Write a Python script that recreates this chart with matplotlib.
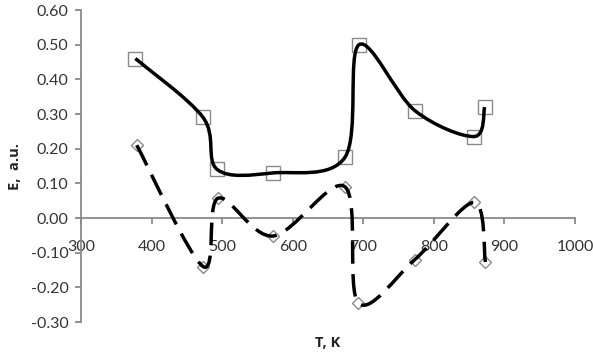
import numpy as np
import matplotlib
matplotlib.use("Agg")
import matplotlib.pyplot as plt
from matplotlib.path import Path
from matplotlib.patches import PathPatch

# Data
T_sq = [377, 473, 493, 572, 674, 694, 773, 857, 872]
E_sq = [0.46, 0.29, 0.14, 0.13, 0.175, 0.50, 0.31, 0.235, 0.32]
T_di = [379, 473, 494, 572, 674, 693, 773, 857, 873]
E_di = [0.21, -0.14, 0.057, -0.052, 0.09, -0.245, -0.12, 0.045, -0.127]
x_ticks = [300, 400, 500, 600, 700, 800, 900, 1000]
y_ticks = [-0.30, -0.20, -0.10, 0.00, 0.10, 0.20, 0.30, 0.40, 0.50, 0.60]

plt.rcParams['font.family'] = ['Lato', 'DejaVu Sans']

fig = plt.figure(figsize=(5.93, 3.58), dpi=100)
ax = fig.add_axes([81/593, 1-322/358, (575-81)/593, (322-10)/358])

def smooth_path(xs, ys):
    P = np.column_stack([xs, ys]).astype(float)
    n = len(P)
    verts = [P[0]]
    codes = [Path.MOVETO]
    for i in range(n-1):
        p0 = P[i-1] if i > 0 else P[i]
        p1 = P[i]
        p2 = P[i+1]
        p3 = P[i+2] if i+2 < n else P[i+1]
        c1 = p1 + (p2 - p0)/6.0
        c2 = p2 - (p3 - p1)/6.0
        verts += [c1, c2, p2]
        codes += [Path.CURVE4]*3
    return Path(verts, codes)

gray = '#8a8a8a'
ax.plot(T_sq, E_sq, linestyle='none', marker='s', markersize=9.5,
        markerfacecolor='none', markeredgecolor=gray, markeredgewidth=1.0, zorder=2)
ax.plot(T_di, E_di, linestyle='none', marker='D', markersize=6,
        markerfacecolor='white', markeredgecolor=gray, markeredgewidth=1.0, zorder=2)

ax.add_patch(PathPatch(smooth_path(T_sq, E_sq), facecolor='none', edgecolor='black',
                       linewidth=2.5, zorder=3))
ax.add_patch(PathPatch(smooth_path(T_di, E_di), facecolor='none', edgecolor='black',
                       linewidth=2.5, linestyle=(0, (6.5, 3)), zorder=3))

ax.set_xlim(300, 1000)
ax.set_ylim(-0.30, 0.60)
ax.set_xticks(x_ticks)
ax.set_yticks(y_ticks)
ax.set_xticklabels([str(v) for v in x_ticks])
ax.set_yticklabels([f"{v:.2f}".replace('-0.00', '0.00') for v in y_ticks])

for s in ['top', 'right']:
    ax.spines[s].set_visible(False)
ax.spines['bottom'].set_position(('data', 0))
for s in ['left', 'bottom']:
    ax.spines[s].set_color(gray)
    ax.spines[s].set_linewidth(1.3)
ax.tick_params(axis='both', direction='out', length=4, width=1.3, color=gray,
               labelsize=11.5, labelcolor='#333333')
ax.tick_params(axis='x', pad=12)
ax.tick_params(axis='y', pad=5)

lab_font = ['Open Sans', 'DejaVu Sans']
fig.text(15/593, 1-166/358, 'E,  a.u.', rotation=90, ha='center', va='center',
         fontsize=10.5, fontweight='bold', color='#222222', family=lab_font)
fig.text(328/593, 1-343/358, 'T, K', ha='center', va='center',
         fontsize=10.5, fontweight='bold', color='#222222', family=lab_font)

fig.savefig('out.png', dpi=100)
